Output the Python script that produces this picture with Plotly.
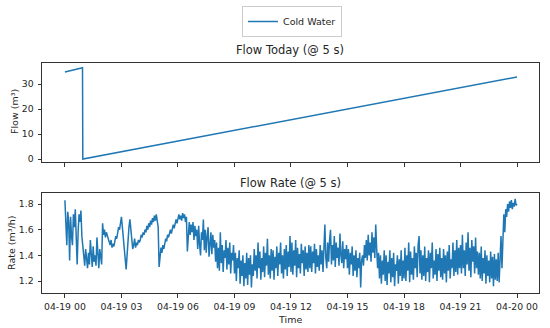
import plotly.graph_objects as go
import pandas as pd

# ---- data ----
flow_times = ["2019-04-19 00:00", "2019-04-19 00:56", "2019-04-19 00:57", "2019-04-20 00:00"]
flow_values = [34.8, 36.5, 0.0, 32.8]

rate_start = "2019-04-19 00:00"
rate_step_minutes = 3
rate_values = [
    1.83, 1.60, 1.48, 1.74, 1.66, 1.36, 1.70, 1.55, 1.48, 1.72, 1.62, 1.76, 1.50, 1.33, 1.58, 1.72, 1.66, 1.75, 1.55, 1.45,
    1.40, 1.32, 1.45, 1.36, 1.30, 1.42, 1.33, 1.52, 1.38, 1.31, 1.47, 1.35, 1.40, 1.32, 1.54, 1.36, 1.30, 1.45, 1.38, 1.33,
    1.65, 1.56, 1.60, 1.54, 1.58, 1.55, 1.52, 1.50, 1.48, 1.52, 1.46, 1.49, 1.47, 1.51, 1.55, 1.53, 1.58, 1.62, 1.60, 1.67,
    1.70, 1.62, 1.52, 1.45, 1.38, 1.29, 1.40, 1.55, 1.62, 1.68, 1.58, 1.50, 1.45, 1.48, 1.53, 1.46, 1.50, 1.48, 1.52, 1.50,
    1.52, 1.56, 1.54, 1.58, 1.56, 1.60, 1.58, 1.63, 1.60, 1.65, 1.62, 1.67, 1.64, 1.69, 1.66, 1.71, 1.67, 1.72, 1.68, 1.62,
    1.31, 1.40, 1.46, 1.42, 1.48, 1.45, 1.50, 1.53, 1.51, 1.56, 1.54, 1.58, 1.60, 1.57, 1.62, 1.64, 1.61, 1.66, 1.68, 1.65,
    1.69, 1.72, 1.68, 1.71, 1.67, 1.73, 1.69, 1.72, 1.66, 1.70, 1.43, 1.62, 1.66, 1.56, 1.64, 1.58, 1.66, 1.52, 1.63, 1.55,
    1.60, 1.45, 1.63, 1.48, 1.40, 1.58, 1.52, 1.68, 1.44, 1.60, 1.42, 1.55, 1.62, 1.39, 1.50, 1.58, 1.41, 1.56, 1.46, 1.52,
    1.35, 1.50, 1.30, 1.46, 1.28, 1.58, 1.34, 1.48, 1.27, 1.44, 1.38, 1.52, 1.29, 1.46, 1.33, 1.50, 1.26, 1.42, 1.36, 1.48,
    1.26, 1.42, 1.20, 1.38, 1.30, 1.44, 1.18, 1.36, 1.24, 1.40, 1.16, 1.34, 1.22, 1.42, 1.17, 1.38, 1.25, 1.40, 1.15, 1.33,
    1.24, 1.45, 1.28, 1.40, 1.22, 1.50, 1.30, 1.43, 1.21, 1.38, 1.27, 1.47, 1.23, 1.42, 1.32, 1.53, 1.25, 1.40, 1.22, 1.45,
    1.28, 1.44, 1.21, 1.39, 1.30, 1.47, 1.24, 1.42, 1.33, 1.50, 1.26, 1.40, 1.22, 1.45, 1.29, 1.48, 1.24, 1.43, 1.31, 1.55,
    1.27, 1.50, 1.25, 1.44, 1.32, 1.52, 1.23, 1.46, 1.30, 1.41, 1.26, 1.49, 1.34, 1.44, 1.24, 1.47, 1.29, 1.42, 1.27, 1.48,
    1.30, 1.47, 1.27, 1.43, 1.34, 1.49, 1.26, 1.45, 1.31, 1.40, 1.28, 1.48, 1.33, 1.44, 1.27, 1.46, 1.64, 1.38, 1.30, 1.50,
    1.35, 1.52, 1.60, 1.33, 1.48, 1.36, 1.55, 1.31, 1.50, 1.38, 1.46, 1.32, 1.57, 1.40, 1.34, 1.51, 1.30, 1.45, 1.37, 1.48,
    1.30, 1.45, 1.25, 1.42, 1.33, 1.47, 1.24, 1.40, 1.28, 1.44, 1.23, 1.38, 1.30, 1.42, 1.15, 1.36, 1.40, 1.32, 1.48, 1.38,
    1.52, 1.36, 1.56, 1.40, 1.50, 1.35, 1.58, 1.42, 1.54, 1.38, 1.64, 1.45, 1.30, 1.42, 1.22, 1.40, 1.18, 1.36, 1.25, 1.44,
    1.20, 1.40, 1.17, 1.35, 1.26, 1.44, 1.19, 1.38, 1.23, 1.42, 1.16, 1.33, 1.28, 1.40, 1.18, 1.37, 1.24, 1.44, 1.20, 1.36,
    1.22, 1.46, 1.20, 1.40, 1.28, 1.50, 1.19, 1.43, 1.25, 1.38, 1.21, 1.47, 1.30, 1.42, 1.23, 1.48, 1.55, 1.26, 1.44, 1.21,
    1.40, 1.24, 1.47, 1.20, 1.38, 1.27, 1.44, 1.19, 1.42, 1.30, 1.50, 1.22, 1.36, 1.25, 1.45, 1.20, 1.41, 1.28, 1.46, 1.23,
    1.38, 1.21, 1.45, 1.26, 1.40, 1.19, 1.43, 1.28, 1.48, 1.22, 1.37, 1.30, 1.50, 1.24, 1.44, 1.27, 1.52, 1.25, 1.46, 1.30,
    1.48, 1.26, 1.56, 1.30, 1.44, 1.24, 1.50, 1.33, 1.58, 1.28, 1.46, 1.23, 1.52, 1.35, 1.47, 1.26, 1.54, 1.30, 1.43, 1.25,
    1.42, 1.22, 1.47, 1.20, 1.38, 1.26, 1.44, 1.18, 1.40, 1.24, 1.36, 1.19, 1.43, 1.22, 1.39, 1.16, 1.41, 1.21, 1.37, 1.20,
    1.42, 1.19, 1.38, 1.55, 1.30, 1.62, 1.72, 1.58, 1.76, 1.70, 1.80, 1.74, 1.82, 1.77, 1.83, 1.76, 1.81, 1.78, 1.84, 1.79,
    1.80,
]

tick_times = ["2019-04-19 00:00", "2019-04-19 03:00", "2019-04-19 06:00", "2019-04-19 09:00",
              "2019-04-19 12:00", "2019-04-19 15:00", "2019-04-19 18:00", "2019-04-19 21:00",
              "2019-04-20 00:00"]
tick_labels = ["04-19 00", "04-19 03", "04-19 06", "04-19 09", "04-19 12",
               "04-19 15", "04-19 18", "04-19 21", "04-20 00"]

rate_times = pd.date_range(rate_start, periods=len(rate_values), freq=f"{rate_step_minutes}min")

W, H = 550, 328
BLUE = "#1f77b4"
FONT = "DejaVu Sans"

def px_x(p):
    return p / W

def px_y(p):
    return 1 - p / H

fig = go.Figure()
fig.add_trace(go.Scatter(x=pd.to_datetime(flow_times), y=flow_values, mode="lines",
                         line=dict(color=BLUE, width=1.5), name="Cold Water",
                         xaxis="x", yaxis="y", showlegend=True))
fig.add_trace(go.Scatter(x=rate_times, y=rate_values, mode="lines",
                         line=dict(color=BLUE, width=1.5), name="Cold Water",
                         xaxis="x2", yaxis="y2", showlegend=False))

xrange = ["2019-04-18 22:47", "2019-04-20 01:10"]
axis_common = dict(showline=True, mirror=True, linecolor="#333333", linewidth=1,
                   ticks="outside", ticklen=3.5, tickwidth=0.8, tickcolor="#333333",
                   showgrid=False, zeroline=False, automargin=False,
                   tickfont=dict(family=FONT, size=9.3, color="#262626"))

fig.update_layout(
    width=W, height=H,
    margin=dict(l=0, r=0, t=0, b=0, pad=0, autoexpand=False),
    paper_bgcolor="white", plot_bgcolor="white",
    font=dict(family=FONT, color="#262626"),
    xaxis=dict(domain=[px_x(42), px_x(539)], anchor="y", range=xrange,
               tickvals=pd.to_datetime(tick_times), ticktext=[""] * len(tick_times),
               **axis_common),
    yaxis=dict(domain=[px_y(162), px_y(63)], anchor="x", range=[-1.2, 38.4],
               tickvals=[0, 10, 20, 30], ticklabelstandoff=2, **axis_common),
    xaxis2=dict(domain=[px_x(42), px_x(539)], anchor="y2", range=xrange,
                tickvals=pd.to_datetime(tick_times), ticktext=tick_labels,
                tickangle=0, ticklabelstandoff=1, **axis_common),
    yaxis2=dict(domain=[px_y(293), px_y(193)], anchor="x2", range=[1.107, 1.886],
                tickvals=[1.2, 1.4, 1.6, 1.8], tickformat=".1f", ticklabelstandoff=2,
                **axis_common),
    legend=dict(x=px_x(292), y=px_y(6), xanchor="center", yanchor="top",
                bordercolor="#cccccc", borderwidth=1, bgcolor="white",
                font=dict(family=FONT, size=9.5, color="#262626"),
                itemwidth=30, tracegroupgap=0),
    showlegend=True,
)

ann_font = dict(family=FONT, size=9.5, color="#262626")
ann_common = dict(xref="paper", yref="paper", showarrow=False, xanchor="center", yanchor="middle")
fig.add_annotation(text="Flow Today (@ 5 s)", x=px_x(290), y=px_y(50),
                   font=dict(family=FONT, size=11.5, color="#262626"), **ann_common)
fig.add_annotation(text="Flow Rate (@ 5 s)", x=px_x(290), y=px_y(183),
                   font=dict(family=FONT, size=11.5, color="#262626"), **ann_common)
fig.add_annotation(text="Flow (m³)", x=px_x(14), y=px_y(112), textangle=-90,
                   font=ann_font, **ann_common)
fig.add_annotation(text="Rate (m³/h)", x=px_x(11), y=px_y(243), textangle=-90,
                   font=ann_font, **ann_common)
fig.add_annotation(text="Time", x=px_x(290), y=px_y(319), font=ann_font, **ann_common)

fig.write_html("out.html", config={"displayModeBar": False},
               post_script="document.body.style.margin='0';document.body.style.padding='0';")
